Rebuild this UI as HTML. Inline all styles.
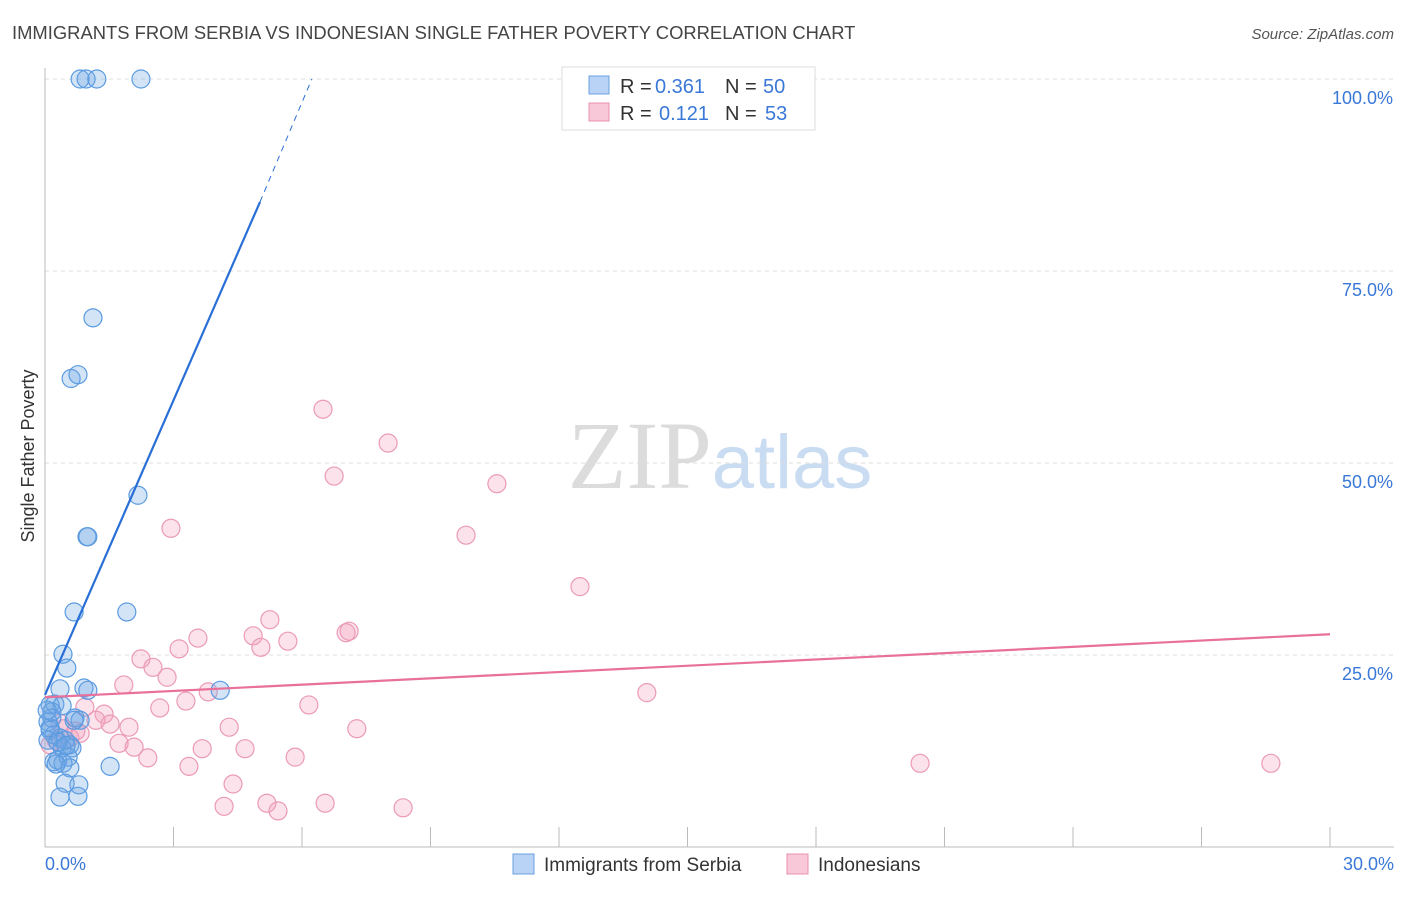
<!DOCTYPE html>
<html><head><meta charset="utf-8"><style>
body{margin:0;background:#fff;font-family:"Liberation Sans",sans-serif;}
svg text{font-family:"Liberation Sans",sans-serif;}
</style></head><body>
<svg id="chart" width="1406" height="892" viewBox="0 0 1406 892" xmlns="http://www.w3.org/2000/svg">
<text x="12" y="39" font-size="18.4" fill="#444">IMMIGRANTS FROM SERBIA VS INDONESIAN SINGLE FATHER POVERTY CORRELATION CHART</text>
<text x="1394" y="39" font-size="15" fill="#555" text-anchor="end" font-style="italic">Source: ZipAtlas.com</text>
<text x="720" y="488" font-size="96" text-anchor="middle"><tspan fill="#dcdcdc" font-family="Liberation Serif">ZIP</tspan><tspan fill="#c9dcf2" font-size="76">atlas</tspan></text>
<g id="grid"></g>
<g id="axes"></g>
<g id="pinkPts"></g>
<g id="bluePts"></g>
<g id="lines"></g>
<text transform="translate(34,456) rotate(-90)" font-size="18" fill="#333" text-anchor="middle">Single Father Poverty</text>
<g>
<rect x="562" y="67" width="253" height="63" fill="#fff" stroke="#ddd"/>
<rect x="589" y="76" width="20" height="18" fill="#b8d3f5" stroke="#6aa0e0"/>
<text x="620" y="93" font-size="20" fill="#333">R =</text>
<text x="655" y="93" font-size="20" fill="#3a78d8">0.361</text>
<text x="725" y="93" font-size="20" fill="#333">N =</text>
<text x="763" y="93" font-size="20" fill="#3a78d8">50</text>
<rect x="589" y="103" width="20" height="18" fill="#f9c8d8" stroke="#e890b0"/>
<text x="620" y="120" font-size="20" fill="#333">R =</text>
<text x="659" y="120" font-size="20" fill="#3a78d8">0.121</text>
<text x="725" y="120" font-size="20" fill="#333">N =</text>
<text x="765" y="120" font-size="20" fill="#3a78d8">53</text>
</g>
<g>
<rect x="513" y="854" width="21" height="20" fill="#b8d3f5" stroke="#6aa0e0"/>
<text x="544" y="871" font-size="19" fill="#333">Immigrants from Serbia</text>
<rect x="787" y="854" width="21" height="20" fill="#f9c8d8" stroke="#e890b0"/>
<text x="818" y="871" font-size="19" fill="#333">Indonesians</text>
</g>
</svg>
<script>
const blueX=[0.82,0.96,1.21,2.24,1.12,0.61,0.77,2.17,0.98,1.00,0.68,1.91,0.42,0.51,0.35,0.91,1.00,4.09,0.12,0.23,0.40,0.16,0.70,0.82,0.07,0.12,0.21,0.35,0.47,0.58,0.40,0.63,0.21,0.30,0.42,0.54,0.58,1.52,0.47,0.79,0.35,0.77,0.07,0.12,0.16,0.30,0.05,0.49,0.26,0.68];
const blueY=[100,100,100,100,68.9,61.0,61.5,45.8,40.4,40.4,30.6,30.6,25.1,23.3,20.6,20.7,20.4,20.4,18.5,18.6,18.4,16.8,16.8,16.5,16.3,15.2,14.6,14.2,13.9,13.3,12.9,12.9,11.1,11.3,10.9,11.7,10.3,10.5,8.3,8.1,6.5,6.6,13.9,15.5,17.6,13.7,17.8,13.2,10.8,16.5];
const pinkX=[6.49,8.01,6.75,10.55,2.94,9.83,12.49,5.25,7.10,7.03,4.86,5.67,3.57,5.04,3.13,2.24,2.52,2.85,1.84,14.05,3.81,3.29,6.16,2.68,0.93,1.38,1.19,1.52,7.28,1.96,4.30,0.72,0.44,1.73,2.08,3.67,4.67,2.40,5.84,3.36,4.39,20.43,28.62,4.18,5.18,6.54,5.44,8.36,0.26,0.58,0.35,0.12,0.82];
const pinkY=[57.0,52.6,48.3,47.3,41.5,40.6,33.9,29.6,28.1,27.9,27.5,26.8,27.2,26.0,25.8,24.5,23.4,22.1,21.1,20.1,20.2,19.0,18.5,18.1,18.2,17.3,16.5,16.0,15.4,15.6,15.6,15.1,15.4,13.5,13.0,12.8,12.8,11.6,11.7,10.5,8.2,10.9,10.9,5.3,5.7,5.7,4.7,5.1,13.9,14.2,16.1,13.3,14.8];
const yTicks=[25,50,75,100];
const xTickLabels=["0.0%","30.0%"];
const blueTrend=[[0,19.8],[5.02,84.0]];
const blueTrendDash=[[5.02,84.0],[6.23,100]];
const pinkTrend=[[0,19.5],[30,27.7]];
const NS="http://www.w3.org/2000/svg";
const sx=v=>45+v/30*1285, sy=v=>847-v*7.68;
function mk(tag,parent,attrs){const e=document.createElementNS(NS,tag);for(const k in attrs)e.setAttribute(k,attrs[k]);parent.appendChild(e);return e;}
const grid=document.getElementById('grid'),axes=document.getElementById('axes');
yTicks.forEach(t=>{
 const l=mk('line',grid,{x1:45,x2:1394,y1:sy(t),y2:sy(t),stroke:'#ddd','stroke-dasharray':'4,4'});
 
 
 const tx=mk('text',axes,{x:1393,y:sy(t)+25,'font-size':18,fill:'#3a78d8','text-anchor':'end'});
 tx.textContent=t.toFixed(1)+'%';
 
 
});
mk('line',axes,{x1:45,x2:45,y1:68,y2:847,stroke:'#bbb'});
mk('line',axes,{x1:45,x2:1394,y1:847,y2:847,stroke:'#bbb'});
for(let i=0;i<=10;i++){const x=sx(i*3);const tk=mk('line',axes,{x1:x,x2:x,y1:827,y2:847,stroke:'#bbb'});
 
 }
const xl0=mk('text',axes,{x:45,y:870,'font-size':18,fill:'#3a78d8'});xl0.textContent=xTickLabels[0];


const xl1=mk('text',axes,{x:1394,y:870,'font-size':18,fill:'#3a78d8','text-anchor':'end'});xl1.textContent=xTickLabels[1];


const pg=document.getElementById('pinkPts'),bg=document.getElementById('bluePts');
pinkX.forEach((x,i)=>{const c=mk('circle',pg,{cx:sx(x),cy:sy(pinkY[i]),r:9,fill:'rgba(242,160,188,0.3)',stroke:'#eb9ab7','stroke-width':1.2});
 
 });
blueX.forEach((x,i)=>{const c=mk('circle',bg,{cx:sx(x),cy:sy(blueY[i]),r:9,fill:'rgba(110,165,230,0.3)',stroke:'#5b9be0','stroke-width':1.2});
 
 });
const lg=document.getElementById('lines');
const bl=mk('line',lg,{x1:sx(blueTrend[0][0]),y1:sy(blueTrend[0][1]),x2:sx(blueTrend[1][0]),y2:sy(blueTrend[1][1]),stroke:'#2a6fd6','stroke-width':2.2});


const bd=mk('line',lg,{x1:sx(blueTrendDash[0][0]),y1:sy(blueTrendDash[0][1]),x2:sx(blueTrendDash[1][0]),y2:sy(blueTrendDash[1][1]),stroke:'#2a6fd6','stroke-width':1,'stroke-dasharray':'6,5'});


const pl=mk('line',lg,{x1:sx(pinkTrend[0][0]),y1:sy(pinkTrend[0][1]),x2:sx(pinkTrend[1][0]),y2:sy(pinkTrend[1][1]),stroke:'#e8709a','stroke-width':2.2});


</script>
</body></html>
